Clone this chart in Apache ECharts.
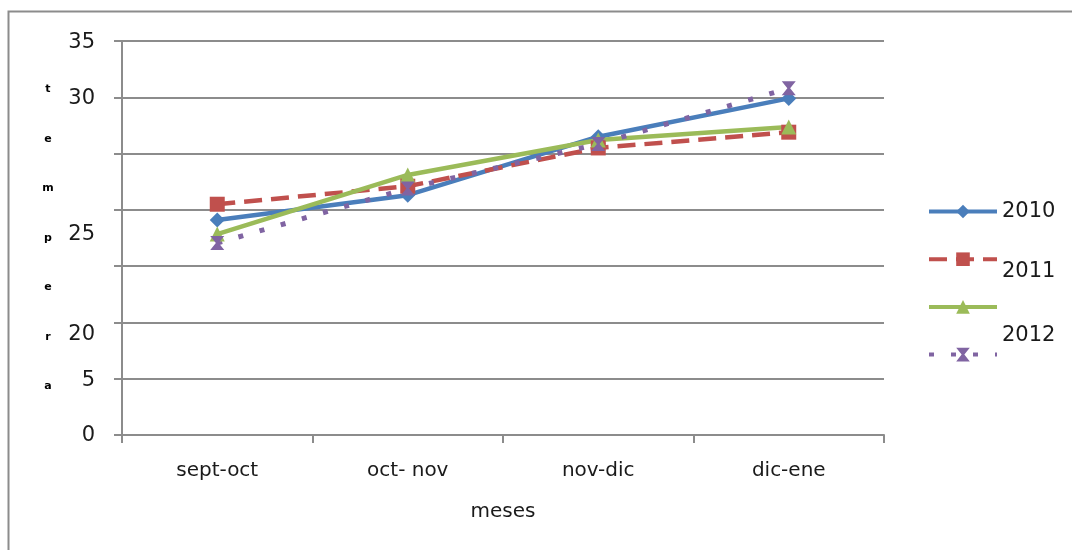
<!DOCTYPE html>
<html>
<head>
<meta charset="utf-8">
<script src="https://cdn.jsdelivr.net/npm/echarts@6/dist/echarts.min.js"></script>
<style>html,body{margin:0;padding:0;background:#fff}#c{width:1072px;height:550px}</style>
</head>
<body>
<div id="c"></div>
<script>
// ---- data ----
const categories = ['sept-oct', 'oct- nov', 'nov-dic', 'dic-ene'];
const s2010 = [19.1, 21.3, 26.5, 29.9];
const s2011 = [20.5, 22.1, 25.5, 26.9];
const s2012 = [17.85, 23.1, 26.2, 27.35];
const s4 = [17.05, 21.9, 25.85, 30.8];
const seriesNames = ['2010', '2011', '2012', ' '];
const yTickValues = [0, 5, 10, 15, 20, 25, 30, 35];
const yTickLabels = ['0', '5', '20', '', '25', '', '30', '35'];
const yAxisTitle = ['t', 'e', 'm', 'p', 'e', 'r', 'a'];

const FONT = 'DejaVu Sans';
const yLabelShift = {0: 'a', 5: 'b', 10: 'c', 20: 'd', 30: 'a', 35: 'b'};
const legendKey = {'2010': 'l0', '2011': 'l1', '2012': 'l2', ' ': 'l3'};
const legendText = {fontFamily: FONT, fontSize: 21, lineHeight: 22, color: '#1a1a1a', backgroundColor: 'transparent'};

const chart = echarts.init(document.getElementById('c'), null, {renderer: 'canvas'});
chart.setOption({
  animation: false,
  backgroundColor: '#fff',
  graphic: [{
    type: 'rect', left: 6, top: 9, z: -1,
    shape: {width: 1100, height: 600},
    style: {fill: 'none', stroke: '#8c8c8c', lineWidth: 2}
  }],
  grid: {left: 122, top: 41, right: 188, bottom: 115, containLabel: false, outerBoundsMode: 'none'},
  legend: {
    orient: 'vertical', left: 927, top: 172, itemGap: -14.3, padding: 0,
    itemWidth: 68, itemHeight: 17,
    lineStyle: {width: 4},
    textStyle: {fontFamily: FONT, fontSize: 21, color: '#1a1a1a'},
    formatter: function (name) { return '{' + legendKey[name] + '|' + name + '}'; },
    data: seriesNames
  },
  xAxis: {
    type: 'category', data: categories, boundaryGap: true,
    name: 'meses', nameLocation: 'middle', nameGap: 67,
    nameTextStyle: {fontFamily: FONT, fontSize: 20, color: '#1a1a1a'},
    axisLine: {lineStyle: {color: '#8c8c8c', width: 2}},
    axisTick: {show: true, length: 8, alignWithLabel: false, lineStyle: {color: '#8c8c8c', width: 2}},
    axisLabel: {fontFamily: FONT, fontSize: 20, color: '#1a1a1a', margin: 26}
  },
  yAxis: {
    type: 'value', min: 0, max: 35, interval: 5,
    name: yAxisTitle.join('\n'), nameLocation: 'middle', nameGap: 74, nameRotate: 0,
    nameTextStyle: {fontFamily: FONT, fontSize: 11, fontWeight: 'bold', color: '#000', lineHeight: 49.5, align: 'center'},
    axisLine: {show: true, lineStyle: {color: '#8c8c8c', width: 2}},
    axisTick: {show: true, length: 8, lineStyle: {color: '#8c8c8c', width: 2}},
    splitLine: {lineStyle: {color: '#8c8c8c', width: 2}},
    axisLabel: {
      fontFamily: FONT, fontSize: 21, color: '#1a1a1a', margin: 27,
      formatter: function (v) {
        const i = yTickValues.indexOf(v);
        const t = i >= 0 ? yTickLabels[i] : '';
        if (!t) return '';
        const k = yLabelShift[v];
        return k ? '{' + k + '|' + t + '}' : t;
      },
      rich: {
        a: {fontFamily: FONT, fontSize: 21, color: '#1a1a1a', padding: [2, 0, 0, 0]},
        b: {fontFamily: FONT, fontSize: 21, color: '#1a1a1a', padding: [4, 0, 0, 0]},
        c: {fontFamily: FONT, fontSize: 21, color: '#1a1a1a', padding: [24, 0, 0, 0]},
        d: {fontFamily: FONT, fontSize: 21, color: '#1a1a1a', padding: [50, 0, 0, 0]}
      }
    }
  },
  series: [
    {
      name: seriesNames[0], type: 'line', data: s2010,
      symbol: 'diamond', symbolSize: 15,
      lineStyle: {color: '#4a7ebb', width: 4.5},
      itemStyle: {color: '#4a7ebb'}
    },
    {
      name: seriesNames[1], type: 'line', data: s2011,
      symbol: 'rect', symbolSize: 15,
      lineStyle: {color: '#c0504d', width: 4.5, type: [18, 9]},
      itemStyle: {color: '#c0504d'}
    },
    {
      name: seriesNames[2], type: 'line', data: s2012,
      symbol: 'triangle', symbolSize: 15,
      lineStyle: {color: '#9bbb59', width: 4.5},
      itemStyle: {color: '#9bbb59'}
    },
    {
      name: seriesNames[3], type: 'line', data: s4,
      symbol: 'path://M0,0 L10,0 L6,5 L10,10 L0,10 L4,5 Z', symbolSize: [14, 14],
      lineStyle: {color: '#8064a2', width: 5, type: [5, 17]},
      itemStyle: {color: '#8064a2'}
    }
  ]
});
// legend label offsets (rich tokens with padding)
chart.setOption({
  legend: {
    textStyle: {
      rich: {
        l0: Object.assign({}, legendText, {padding: [29, 0, 29, 0]}),
        l1: Object.assign({}, legendText, {padding: [24, 0, 0, 0]}),
        l2: Object.assign({}, legendText, {padding: [58, 0, 0, 0]}),
        l3: Object.assign({}, legendText, {padding: [12, 0, 12, 0]})
      }
    }
  }
});
</script>
</body>
</html>
